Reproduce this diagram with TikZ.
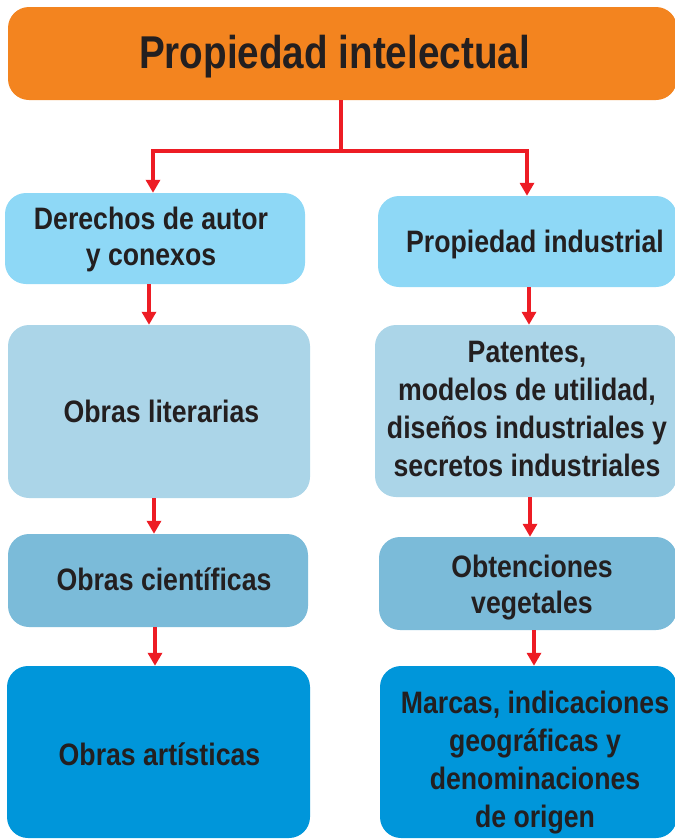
\documentclass[tikz,border=0pt]{standalone}
\usepackage{fontspec}
\setmainfont{Liberation Sans}[FakeStretch=0.86]
\newfontfamily\titlefont{Liberation Sans}[FakeStretch=0.84]
\usetikzlibrary{arrows.meta}
\definecolor{orangebox}{HTML}{F3841F}
\definecolor{blueA}{HTML}{8ED8F6}
\definecolor{blueB}{HTML}{ABD5E8}
\definecolor{blueC}{HTML}{7BBBD9}
\definecolor{blueD}{HTML}{0096DA}
\definecolor{redline}{HTML}{ED1C24}
\definecolor{darktext}{HTML}{231F20}
\tikzset{
  box/.style={rounded corners=21pt, inner sep=0pt, draw=none},
  label/.style={anchor=base, align=center, text=darktext, inner sep=0pt,
    font=\fontsize{31}{37}\selectfont\bfseries},
  arr/.style={draw=redline, line width=4.6pt, -{Triangle[width=14pt,length=13pt]}},
  conn/.style={draw=redline, line width=4.6pt}
}
\begin{document}
\begin{tikzpicture}[x=1pt,y=-1pt]
\useasboundingbox (0,0) rectangle (675,839);
% boxes
\node[box, fill=orangebox, minimum width=669pt, minimum height=93pt] (top) at (342.5,53.5) {};
\node[box, fill=blueA, minimum width=300pt, minimum height=91pt] (b1) at (155,238.5) {};
\node[box, fill=blueA, minimum width=299pt, minimum height=91pt] (r1) at (527.5,241.5) {};
\node[box, fill=blueB, minimum width=302pt, minimum height=173pt] (b2) at (159,411.5) {};
\node[box, fill=blueB, minimum width=302pt, minimum height=172pt] (r2) at (526,411) {};
\node[box, fill=blueC, minimum width=300pt, minimum height=93pt] (b3) at (158,580.5) {};
\node[box, fill=blueC, minimum width=298pt, minimum height=93pt] (r3) at (528,583.5) {};
\node[box, fill=blueD, minimum width=303pt, minimum height=172pt] (b4) at (158.5,752) {};
\node[box, fill=blueD, minimum width=297pt, minimum height=172pt] (r4) at (528.5,752) {};
% texts (anchor base = baseline of the last line)
\node[label, font=\fontsize{46}{50}\selectfont\titlefont\bfseries] (ttop) at (334.5,68) {Propiedad intelectual};
\node[label, font=\fontsize{31}{36}\selectfont\bfseries] (tb1) at (151,265) {Derechos de autor\\y conexos};
\node[label] (tr1) at (535,252) {Propiedad industrial};
\node[label] (tb2) at (161.5,422) {Obras literarias};
\node[label, font=\fontsize{31}{38}\selectfont\bfseries] (tr2) at (527,476) {Patentes,\\modelos de utilidad,\\diseños industriales y\\secretos industriales};
\node[label] (tb3) at (164,590) {Obras científicas};
\node[label, font=\fontsize{31}{36}\selectfont\bfseries] (tr3) at (532,613) {Obtenciones\\vegetales};
\node[label] (tb4) at (159.5,765) {Obras artísticas};
\node[label, font=\fontsize{31}{38}\selectfont\bfseries] (tr4) at (535,827) {Marcas, indicaciones\\geográficas y\\denominaciones\\de origen};
% connectors
\coordinate (split) at (341,151);
\draw[conn] (top.south -| split) -- (split);
\draw[arr] (split) -| (b1.north -| 153,0);
\draw[arr] (split) -| (r1.north -| 527,0);
\draw[arr] (b1.south -| 149,0) -- (b2.north -| 149,0);
\draw[arr] (r1.south -| 529,0) -- (r2.north -| 529,0);
\draw[arr] (b2.south -| 154,0) -- (b3.north -| 154,0);
\draw[arr] (r2.south -| 530,0) -- (r3.north -| 530,0);
\draw[arr] (b3.south -| 155,0) -- (b4.north -| 155,0);
\draw[arr] (r3.south -| 534,0) -- (r4.north -| 534,0);
\end{tikzpicture}
\end{document}
